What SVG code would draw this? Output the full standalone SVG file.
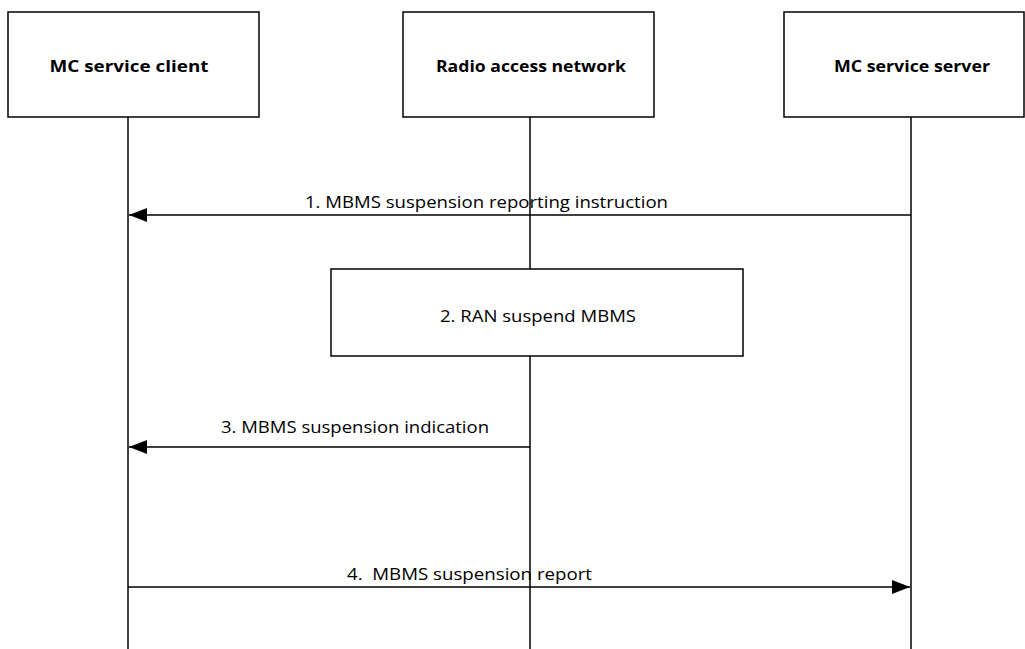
<svg xmlns="http://www.w3.org/2000/svg" width="1025" height="649" viewBox="0 0 1025 649">
<defs>
<style>
.box{fill:#fff;stroke:#000;stroke-width:1.5}
.life{stroke:#000;stroke-width:1.5;fill:none}
.msg{stroke:#000;stroke-width:1.5;fill:none}
.t{font-family:"Open Sans","Liberation Sans",sans-serif;font-size:16px;fill:#000}
.tb{font-family:"Open Sans","Liberation Sans",sans-serif;font-size:16px;font-weight:bold;fill:#000}
</style>
<marker id="ah" markerWidth="18" markerHeight="14" refX="18" refY="7" orient="auto" markerUnits="userSpaceOnUse">
<path d="M0,0 L18,7 L0,14 Z" fill="#000"/>
</marker>
</defs>
<rect width="1025" height="649" fill="#fff"/>
<g id="lifelines">
<line class="life" x1="128" y1="117" x2="128" y2="649"/>
<line class="life" x1="530" y1="117" x2="530" y2="269"/>
<line class="life" x1="530" y1="356" x2="530" y2="649"/>
<line class="life" x1="911" y1="117" x2="911" y2="649"/>
</g>
<g id="node-client">
<rect class="box" x="8" y="12" width="251" height="105"/>
<text class="tb" x="129" y="72" text-anchor="middle" textLength="159" lengthAdjust="spacingAndGlyphs">MC service client</text>
</g>
<g id="node-ran">
<rect class="box" x="403" y="12" width="251" height="105"/>
<text class="tb" x="531" y="72" text-anchor="middle" textLength="190" lengthAdjust="spacingAndGlyphs">Radio access network</text>
</g>
<g id="node-server">
<rect class="box" x="784" y="12" width="240" height="105"/>
<text class="tb" x="912" y="72" text-anchor="middle" textLength="156" lengthAdjust="spacingAndGlyphs">MC service server</text>
</g>
<g id="node-ran-suspend">
<rect class="box" x="331" y="269" width="412" height="87"/>
<text class="t" x="538" y="322" text-anchor="middle" textLength="196" lengthAdjust="spacingAndGlyphs">2. RAN suspend MBMS</text>
</g>
<g id="connectors">
<line class="msg" x1="911" y1="215" x2="129" y2="215" marker-end="url(#ah)"/>
<text class="t" x="305" y="208" textLength="363" lengthAdjust="spacingAndGlyphs">1. MBMS suspension reporting instruction</text>
<line class="msg" x1="530" y1="447" x2="129" y2="447" marker-end="url(#ah)"/>
<text class="t" x="221" y="433" textLength="268" lengthAdjust="spacingAndGlyphs">3. MBMS suspension indication</text>
<line class="msg" x1="128" y1="587" x2="910" y2="587" marker-end="url(#ah)"/>
<text class="t" x="347" y="580" textLength="245" lengthAdjust="spacingAndGlyphs" xml:space="preserve">4.  MBMS suspension report</text>
</g>
</svg>
